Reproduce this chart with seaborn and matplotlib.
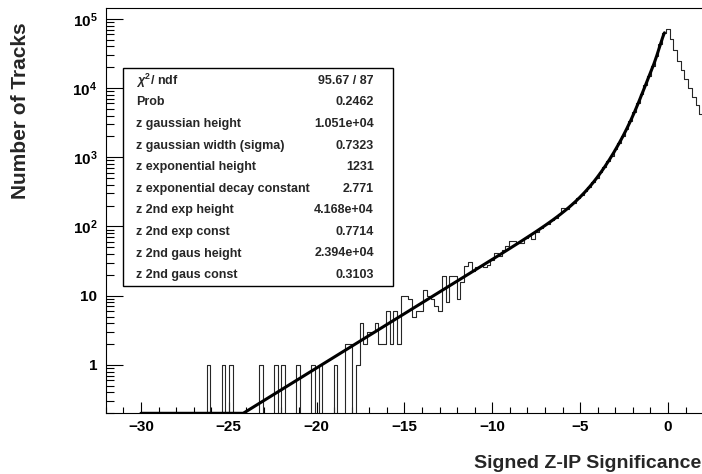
import matplotlib
matplotlib.use('Agg')
import matplotlib.pyplot as plt
import numpy as np
import pandas as pd
import seaborn as sns
from matplotlib.patches import Rectangle
from matplotlib.ticker import LogLocator, MultipleLocator, NullFormatter

# histogram: 160 bins of width 0.2125 between -32 and 2
hist_lo, hist_hi, n_bins = -32.0, 2.0, 160
counts = [0] * 27 + [
    1, 0, 0, 0, 1, 0, 1, 0, 0, 0,
    0, 0, 0, 0, 1, 0, 0, 0, 1, 0,
    1, 0, 0, 0, 1, 0, 0, 0, 1, 0,
    1, 0, 0, 0, 1, 0, 0, 2, 2, 0,
    1, 4, 2, 3, 3, 4, 2, 2, 6, 2,
    6, 2, 10, 10, 9, 5, 6, 6, 12, 10,
    9, 7, 6, 19, 8, 19, 19, 9, 16, 27,
    31, 23, 26, 27, 26, 28, 33, 41, 38, 45,
    53, 61, 61, 58, 57, 68, 74, 66, 84, 95,
    104, 110, 124, 133, 150, 188, 178, 202, 222, 255,
    283, 327, 372, 438, 505, 606, 716, 873, 1052, 1310,
    1618, 2051, 2600, 3391, 4440, 5990, 8100, 11090, 15060, 20700,
    29290, 43360, 61700, 72300, 50400, 36000, 25000, 18000, 13300, 9900,
    7400, 5600, 4270,
]

# fit result shown in the stats box
chi2, ndf, prob = 95.67, 87, 0.2462
gaus_height, gaus_width = 1.051e+04, 0.7323
exp_height, exp_decay = 1231, 2.771
exp2_height, exp2_const = 4.168e+04, 0.7714
gaus2_height, gaus2_const = 2.394e+04, 0.3103
fit_range = (-30.0, -0.2)

par_names = [
    'z gaussian height', 'z gaussian width (sigma)', 'z exponential height',
    'z exponential decay constant', 'z 2nd exp height', 'z 2nd exp const',
    'z 2nd gaus height', 'z 2nd gaus const',
]
par_values = [
    gaus_height, gaus_width, exp_height, exp_decay,
    exp2_height, exp2_const, gaus2_height, gaus2_const,
]

x_ticks = [-30, -25, -20, -15, -10, -5, 0]
y_ticks = [1, 10, 1e2, 1e3, 1e4, 1e5]
y_labels = ['1', '10', r'$\mathbf{10^{2}}$', r'$\mathbf{10^{3}}$',
            r'$\mathbf{10^{4}}$', r'$\mathbf{10^{5}}$']
y_min, y_max = 0.2, 1.42e5

sns.set_theme(style='white')
plt.rcParams['font.family'] = ['Liberation Sans', 'DejaVu Sans']
plt.rcParams['font.weight'] = 'bold'
plt.rcParams['mathtext.fontset'] = 'custom'
plt.rcParams['mathtext.rm'] = 'Liberation Sans:bold'
plt.rcParams['mathtext.bf'] = 'Liberation Sans:bold'
plt.rcParams['mathtext.it'] = 'Liberation Sans:italic'

W, H = 702, 474
fig = plt.figure(figsize=(W / 100, H / 100), dpi=100)
ax = fig.add_axes([105.8 / W, (H - 413.3) / H, 597.3 / W, 405 / H])
ax.set_yscale('log')

bin_w = (hist_hi - hist_lo) / n_bins
df = pd.DataFrame({
    'z': hist_lo + bin_w * (np.arange(n_bins) + 0.5),
    'n': counts,
})
sns.histplot(
    data=df, x='z', weights='n', bins=n_bins, binrange=(hist_lo, hist_hi),
    element='step', fill=False, color='#262626', linewidth=0.8, ax=ax,
)

# fit curve, ROOT draws values below the frame on the bottom edge
fx = np.linspace(fit_range[0], fit_range[1], 800)
fy = (gaus_height * np.exp(-0.5 * (fx / gaus_width) ** 2)
      + exp_height * np.exp(fx / exp_decay)
      + exp2_height * np.exp(fx / exp2_const)
      + gaus2_height * np.exp(-0.5 * (fx / gaus2_const) ** 2))
sns.lineplot(x=fx, y=np.maximum(fy, y_min), color='black', linewidth=2.2,
             estimator=None, sort=False, ax=ax)

ax.set_xlim(hist_lo, hist_hi)
ax.set_ylim(y_min, y_max)
ax.set_xlabel('')
ax.set_ylabel('')
ax.set_xticks(x_ticks)
ax.set_xticklabels([f'\u2212{abs(t)}' if t < 0 else f'{t}' for t in x_ticks])
ax.xaxis.set_minor_locator(MultipleLocator(1))
ax.set_yticks(y_ticks)
ax.set_yticklabels(y_labels)
ax.yaxis.set_minor_locator(LogLocator(base=10, subs=np.arange(2, 10)))
ax.yaxis.set_minor_formatter(NullFormatter())
ax.tick_params(axis='both', which='both', direction='in', colors='black',
               width=0.8, labelsize=11, bottom=True, left=True,
               top=False, right=False)
ax.tick_params(axis='x', which='major', length=8, pad=5)
ax.tick_params(axis='x', which='minor', length=4)
ax.tick_params(axis='y', which='major', length=12.5, pad=6)
ax.tick_params(axis='y', which='minor', length=6)
for t in ax.get_xticklabels() + ax.get_yticklabels():
    t.set_fontweight('bold')
for s in ax.spines.values():
    s.set_color('black')
    s.set_linewidth(0.8)

fig.text(21 / W, 1 - 22 / H, 'Number of Tracks', rotation=90, ha='center',
         va='top', fontsize=15, fontweight='bold')
fig.text(701 / W, 1 - 464 / H, 'Signed Z-IP Significance', ha='right',
         va='center', fontsize=14, fontweight='bold')

# stats box
bx0, by0, bx1, by1 = 123, 68, 393, 286
fig.add_artist(Rectangle((bx0 / W, 1 - by1 / H), (bx1 - bx0) / W,
                         (by1 - by0) / H, transform=fig.transFigure,
                         facecolor='white', edgecolor='black', linewidth=1.0))
rows = [(r'$\chi^{2}$/ ndf', f'{chi2:.2f} / {ndf}'), ('Prob', f'{prob:.4g}')]
rows += [(n, f'{v:.4g}') for n, v in zip(par_names, par_values)]
for j, (name, val) in enumerate(rows):
    yy = 1 - (80.7 + 21.6 * j) / H
    fig.text(136 / W, yy, name, ha='left', va='center', fontsize=9,
             fontweight='bold')
    fig.text(374 / W, yy, val, ha='right', va='center', fontsize=9,
             fontweight='bold')

fig.savefig('out.png', dpi=100)
